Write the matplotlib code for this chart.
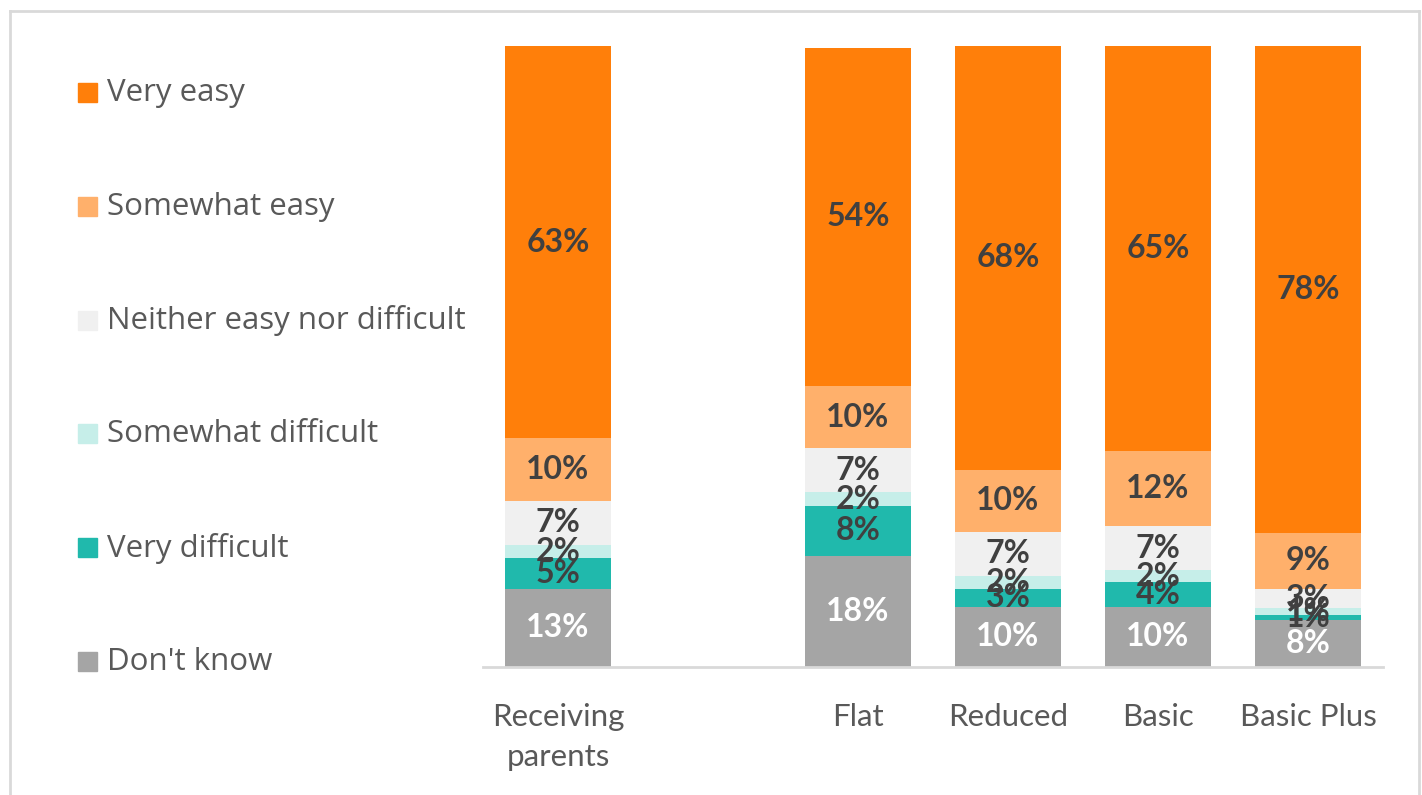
import matplotlib.pyplot as plt
from matplotlib.patches import Rectangle
from matplotlib.lines import Line2D

# groups and survey answers (percent of respondents)
groups = ['Receiving\nparents', 'Flat', 'Reduced', 'Basic', 'Basic Plus']
positions = [0, 2, 3, 4, 5]
answers = ['Don\'t know', 'Very difficult', 'Somewhat difficult',
           'Neither easy nor difficult', 'Somewhat easy', 'Very easy']

dont_know = [12.6, 17.9, 9.7, 9.7, 7.6]
very_difficult = [5.0, 8.1, 2.9, 4.0, 0.8]
somewhat_difficult = [2.1, 2.1, 2.1, 1.9, 1.1]
neither = [7.1, 7.1, 7.1, 7.1, 3.1]
somewhat_easy = [10.0, 10.1, 10.0, 12.1, 9.0]
very_easy = [63.2, 54.45, 68.2, 65.2, 78.4]

series = [dont_know, very_difficult, somewhat_difficult, neither, somewhat_easy, very_easy]
colors = ['#A5A5A5', '#20B9AC', '#C6EEE9', '#F0F0F0', '#FFB06B', '#FF7F0A']
label_colors = ['white', '#404040', '#404040', '#404040', '#404040', '#404040']

fig = plt.figure(figsize=(14.22, 7.95), dpi=100)
ax = fig.add_axes([483 / 1422, 1 - 667 / 795, 900 / 1422, (667 - 46) / 795])

bottom = [0.0] * len(groups)
for vals, col, lcol in zip(series, colors, label_colors):
    ax.bar(positions, vals, width=0.713, bottom=bottom, color=col, zorder=2)
    for x, b, v in zip(positions, bottom, vals):
        ax.text(x, b + v / 2, f'{int(v + 0.5)}%', ha='center', va='center',
                fontsize=23, fontweight='bold', color=lcol, family='Lato', zorder=3)
    bottom = [b + v for b, v in zip(bottom, vals)]

ax.set_xlim(-0.5, 5.5)
ax.set_ylim(0, 100)
ax.set_yticks([])
ax.set_xticks(positions)
ax.set_xticklabels(groups, fontsize=22.5, color='#595959', family='Lato', linespacing=1.5)
ax.tick_params(axis='x', length=0, pad=26)
for s in ['top', 'right', 'left']:
    ax.spines[s].set_visible(False)
ax.spines['bottom'].set_color('#D9D9D9')
ax.spines['bottom'].set_linewidth(2)

# legend drawn by hand, top to bottom
leg_y = [92, 206, 320, 433, 547, 661]
for name, col, y in zip(answers[::-1], colors[::-1], leg_y):
    fig.patches.append(Rectangle((78 / 1422, 1 - (y + 10) / 795), 19 / 1422, 19 / 795,
                                 transform=fig.transFigure, color=col))
    fig.text(107 / 1422, 1 - (y + 1) / 795, name, fontsize=22.5, color='#595959',
             family='Open Sans', va='center', ha='left')

# outer chart border
for xs, ys in [([10, 10], [795, 11]), ([10, 1419], [11, 11]), ([1419, 1419], [11, 795])]:
    fig.lines.append(Line2D([x / 1422 for x in xs], [1 - y / 795 for y in ys],
                            transform=fig.transFigure, color='#D9D9D9', lw=2))

fig.savefig('out.png', dpi=100)
